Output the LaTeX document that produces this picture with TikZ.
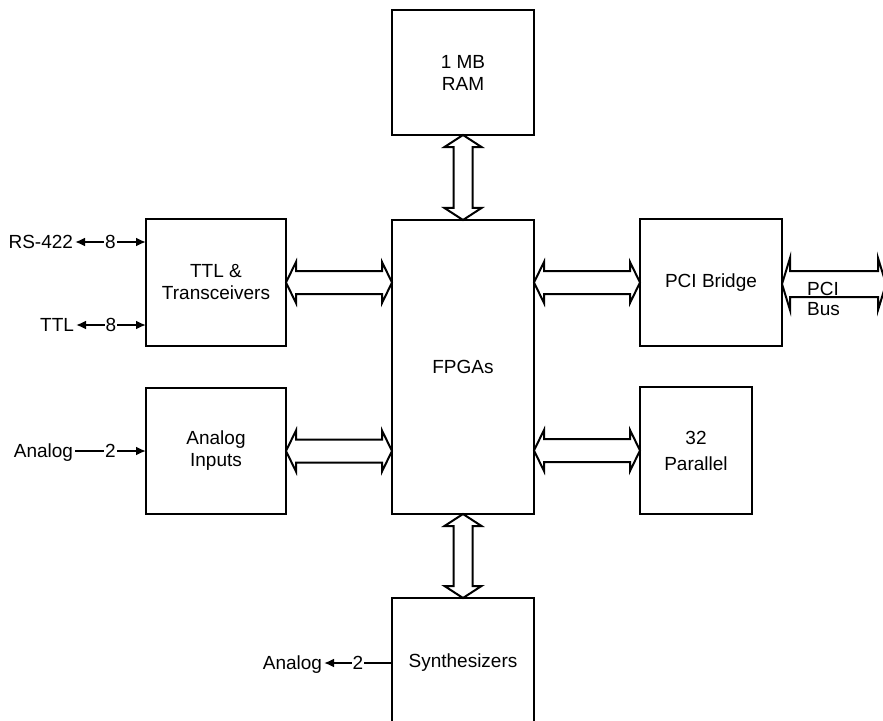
\documentclass[tikz,border=0pt]{standalone}
\usepackage{fontspec}
\setmainfont{Liberation Sans}
\usetikzlibrary{arrows.meta,calc}
\tikzset{
  blk/.style={draw, line width=2bp, inner sep=0pt, outer sep=0pt, align=center,
    font=\fontsize{19bp}{22bp}\selectfont},
  fat/.style={draw, line width=2bp, line join=miter},
  sig/.style={line width=2bp, >={Latex[length=10bp,width=9bp]}},
  lbl/.style={inner sep=0pt, outer xsep=2bp, text height=13.6bp, text depth=0pt,
    font=\fontsize{19bp}{22bp}\selectfont},
  num/.style={fill=white, inner sep=1bp, text height=13.6bp, text depth=0pt,
    font=\fontsize{19bp}{22bp}\selectfont}
}
% horizontal fat double arrow: #1 left point, #2 right point, #3 head length, #4 head half width, #5 shaft half width
\newcommand\HDArrow[5]{%
  \draw[fat] let \p1=#1, \p2=#2 in
    (\x1,\y1) -- (\x1+#3,\y1+#4) -- (\x1+#3,\y1+#5) -- (\x2-#3,\y1+#5) -- (\x2-#3,\y1+#4) -- (\x2,\y1)
    -- (\x2-#3,\y1-#4) -- (\x2-#3,\y1-#5) -- (\x1+#3,\y1-#5) -- (\x1+#3,\y1-#4) -- cycle;}
% vertical fat double arrow: #1 top point, #2 bottom point
\newcommand\VDArrow[5]{%
  \draw[fat] let \p1=#1, \p2=#2 in
    (\x1,\y1) -- (\x1+#4,\y1-#3) -- (\x1+#5,\y1-#3) -- (\x1+#5,\y2+#3) -- (\x1+#4,\y2+#3) -- (\x1,\y2)
    -- (\x1-#4,\y2+#3) -- (\x1-#5,\y2+#3) -- (\x1-#5,\y1-#3) -- (\x1-#4,\y1-#3) -- cycle;}
\begin{document}
\begin{tikzpicture}[x=1bp, y=-1bp]
\useasboundingbox (0,0) rectangle (883,721);
\clip (0,0) rectangle (883,721);

% blocks
\node[blk, minimum width=142bp, minimum height=125bp] (ram)   at (463,72.5)  {1 MB\\RAM};
\node[blk, minimum width=142bp, minimum height=294bp] (fpga)  at (463,367)   {FPGAs};
\node[blk, minimum width=142bp, minimum height=130bp] (synth) at (463,663)   {Synthesizers};
\node[blk, minimum width=140bp, minimum height=127bp] (ttl)   at (216,282.5) {TTL \&\\Transceivers};
\node[blk, minimum width=140bp, minimum height=126bp] (ain)   at (216,451)   {Analog\\Inputs};
\node[blk, minimum width=142bp, minimum height=127bp] (pci)   at (711,282.5) {PCI Bridge};
\node[blk, minimum width=112bp, minimum height=127bp] (par)   at (696,450.5) {32\\[4bp]Parallel};

% fat bus arrows
\VDArrow{(ram.south)}{(fpga.north)}{12bp}{18.5bp}{9.5bp}
\VDArrow{(fpga.south)}{(synth.north)}{12bp}{18.5bp}{9.5bp}
\HDArrow{(ttl.east)}{(fpga.west |- ttl.east)}{10bp}{20.5bp}{11.5bp}
\HDArrow{(ain.east)}{(fpga.west |- ain.east)}{10bp}{20.5bp}{11.5bp}
\HDArrow{(fpga.east |- pci.west)}{(pci.west)}{10bp}{20.5bp}{11.5bp}
\HDArrow{(fpga.east |- par.west)}{(par.west)}{10bp}{20.5bp}{11.5bp}
\coordinate (pcibus) at (886,284);
\HDArrow{(pci.east |- pcibus)}{(pcibus)}{8bp}{26bp}{13bp}
\node[anchor=base west, inner sep=0pt, align=left, font=\fontsize{19bp}{20bp}\selectfont]
  (pcitxt) at (807,315) {PCI\\Bus};

% signal labels and lines
\node[lbl, anchor=east] (rs)   at (75,242) {RS-422};
\node[lbl, anchor=east] (ttlin) at (76,325) {TTL};
\node[lbl, anchor=east] (anin) at (75,451) {Analog};
\node[lbl, anchor=east] (anout) at (324,663) {Analog};

\draw[sig, <->] (rs.east) -- node[num] (n8a) {8} (ttl.west |- rs.east);
\draw[sig, <->] (ttlin.east) -- node[num] (n8b) {8} (ttl.west |- ttlin.east);
\draw[sig, ->] (anin.east) -- node[num] (n2a) {2} (ain.west |- anin.east);
\draw[sig, ->] (synth.west |- anout.east) -- node[num] (n2b) {2} (anout.east);
\end{tikzpicture}
\end{document}
